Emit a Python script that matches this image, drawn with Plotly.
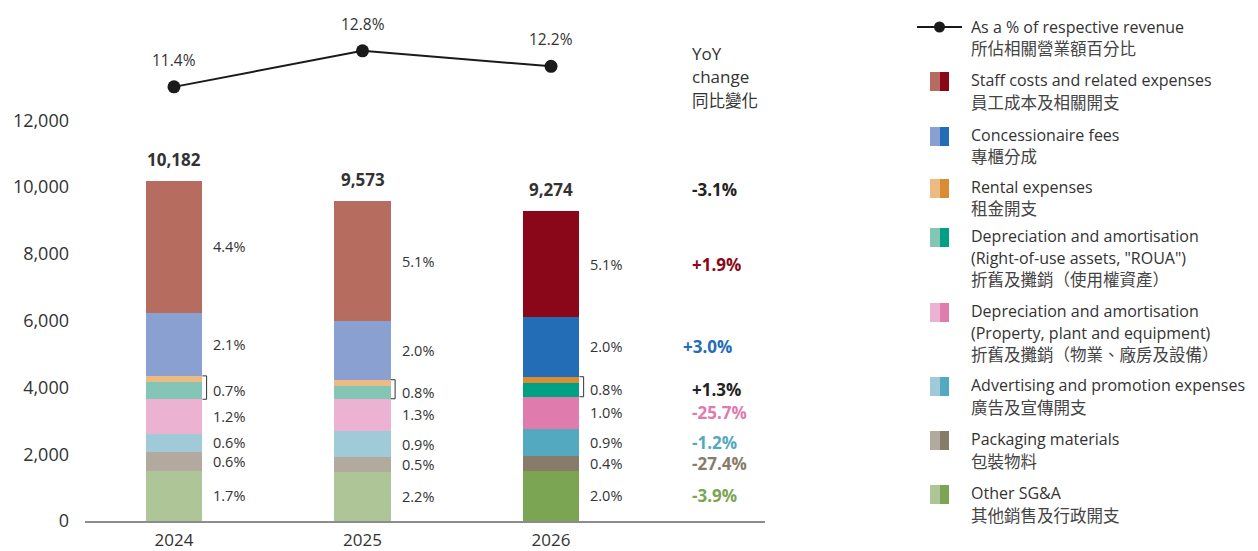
import plotly.graph_objects as go

# data
years = ["2024", "2025", "2026"]
totals = [10182, 9573, 9274]
pct_revenue = [11.4, 12.8, 12.2]

other = [1500, 1470, 1500]
packaging = [565, 450, 450]
advertising = [550, 770, 810]
ppe = [1030, 970, 960]
roua = [520, 390, 420]
rental = [180, 180, 180]
concession = [1885, 1765, 1795]
staff = [3952, 3578, 3159]

lbl_other = ["1.7%", "2.2%", "2.0%"]
lbl_packaging = ["0.6%", "0.5%", "0.4%"]
lbl_advertising = ["0.6%", "0.9%", "0.9%"]
lbl_ppe = ["1.2%", "1.3%", "1.0%"]
lbl_roua_rental = ["0.7%", "0.8%", "0.8%"]
lbl_concession = ["2.1%", "2.0%", "2.0%"]
lbl_staff = ["4.4%", "5.1%", "5.1%"]

yoy_total = "-3.1%"
yoy_other = "-3.9%"
yoy_packaging = "-27.4%"
yoy_advertising = "-1.2%"
yoy_ppe = "-25.7%"
yoy_roua_rental = "+1.3%"
yoy_concession = "+3.0%"
yoy_staff = "+1.9%"

# (light, dark) colour pairs
C_OTHER = ("#AEC697", "#7BA453")
C_PACK = ("#B2AA9F", "#877B6A")
C_ADV = ("#A1CAD8", "#53A9BF")
C_PPE = ("#EBB3D1", "#E07BAD")
C_ROUA = ("#85C5B5", "#00A084")
C_RENT = ("#EBBB83", "#DA8C33")
C_CONC = ("#8AA0D1", "#236CB6")
C_STAFF = ("#B66D5F", "#8A0719")

TXT = "#333333"
FONT = "'Open Sans', 'Noto Sans CJK TC', sans-serif"
CJK = "'Noto Sans CJK TC', sans-serif"

# page body has an 8px margin, so the figure is drawn 8px in from the corner
OFF = 8
W, H = 1258 - OFF, 551 - OFF
L, R, T, B = 85 - OFF, 493, 10 - OFF, 30
BAR_W = 0.302
xs = list(range(len(years)))


# screen pixel -> paper coordinate
def px(x):
    return (x - OFF - L) / (W - L - R)


def py(y):
    return (H - B - (y - OFF)) / (H - T - B)


fig = go.Figure()

segments = [
    (other, C_OTHER, lbl_other, yoy_other),
    (packaging, C_PACK, lbl_packaging, yoy_packaging),
    (advertising, C_ADV, lbl_advertising, yoy_advertising),
    (ppe, C_PPE, lbl_ppe, yoy_ppe),
    (roua, C_ROUA, None, None),
    (rental, C_RENT, lbl_roua_rental, yoy_roua_rental),
    (concession, C_CONC, lbl_concession, yoy_concession),
    (staff, C_STAFF, lbl_staff, yoy_staff),
]

annotations = []
yoy_x = 2.737
base = [0, 0, 0]
for vals, (light, dark), labels, yoy in segments:
    fig.add_trace(go.Bar(
        x=xs, y=vals, width=BAR_W,
        marker=dict(color=[light, light, dark], line=dict(width=0)),
        showlegend=False, hoverinfo="skip",
    ))
    top = [b + v for b, v in zip(base, vals)]
    if labels is not None:
        if vals is rental:
            # label covers rental + ROUA together, with a bracket
            lo = [t - v - r for t, v, r in zip(top, vals, roua)]
            for i in xs:
                xb = i + BAR_W / 2
                fig.add_trace(go.Scatter(
                    x=[xb, xb + 0.022, xb + 0.022, xb], y=[top[i], top[i], lo[i], lo[i]],
                    mode="lines", line=dict(color="#333333", width=1),
                    showlegend=False, hoverinfo="skip",
                ))
            mids = [(t + l) / 2 for t, l in zip(top, lo)]
            shift = -3
        else:
            mids = [(t + b) / 2 for t, b in zip(top, base)]
            shift = 0
        for i in xs:
            annotations.append(dict(
                x=i + BAR_W / 2, y=mids[i], xref="x", yref="y", text=labels[i],
                showarrow=False, xanchor="left", yanchor="middle", xshift=9, yshift=shift,
                font=dict(size=14.5, color=TXT, family=FONT),
            ))
        ycol = "#222222" if yoy == yoy_roua_rental else dark
        annotations.append(dict(
            x=yoy_x, y=mids[2], xref="x", yref="y", text="<b>%s</b>" % yoy,
            showarrow=False, xanchor="left", yanchor="middle", yshift=shift,
            xshift=-9 if yoy == yoy_concession else 0,
            font=dict(size=17, color=ycol, family=FONT),
        ))
    base = top

# totals
for i in xs:
    annotations.append(dict(
        x=i, y=totals[i], xref="x", yref="y", text="<b>%s</b>" % format(totals[i], ","),
        showarrow=False, yanchor="bottom", yshift=8,
        font=dict(size=17, color=TXT, family=FONT),
    ))
annotations.append(dict(
    x=yoy_x, y=totals[2], xref="x", yref="y", text="<b>%s</b>" % yoy_total,
    showarrow=False, xanchor="left", yanchor="bottom", yshift=8,
    font=dict(size=17, color="#222222", family=FONT),
))

# YoY header
for j, t in enumerate(["YoY", "change", "同比變化"]):
    annotations.append(dict(
        x=yoy_x, y=py(53 + 23.5 * j), xref="x", yref="paper", text=t,
        showarrow=False, xanchor="left", yanchor="middle", height=22,
        font=dict(size=17 if j < 2 else 16.5, color=TXT, family=FONT if j < 2 else CJK),
    ))

# revenue % line
fig.add_trace(go.Scatter(
    x=xs, y=pct_revenue, yaxis="y2", mode="lines+markers",
    line=dict(color="#1a1a1a", width=2), marker=dict(color="#1a1a1a", size=13),
    showlegend=False, hoverinfo="skip",
))
for i in xs:
    annotations.append(dict(
        x=i, y=pct_revenue[i], xref="x", yref="y2", text="%.1f%%" % pct_revenue[i],
        showarrow=False, yanchor="middle", yshift=27,
        font=dict(size=15.5, color=TXT, family=FONT),
    ))

# custom legend
shapes = []
legend_x = 969
shapes.append(dict(type="line", xref="paper", yref="paper",
                   x0=px(917), x1=px(962), y0=py(27), y1=py(27),
                   line=dict(color="#1a1a1a", width=2)))
shapes.append(dict(type="circle", xref="paper", yref="paper",
                   x0=px(934), x1=px(945), y0=py(21.5), y1=py(32.5),
                   fillcolor="#1a1a1a", line=dict(width=0)))

legend_items = [
    (None, 27, ["As a % of respective revenue", "所佔相關營業額百分比"]),
    (C_STAFF, 72, ["Staff costs and related expenses", "員工成本及相關開支"]),
    (C_CONC, 127, ["Concessionaire fees", "專櫃分成"]),
    (C_RENT, 179, ["Rental expenses", "租金開支"]),
    (C_ROUA, 228, ["Depreciation and amortisation", '(Right-of-use assets, "ROUA")', "折舊及攤銷（使用權資產）"]),
    (C_PPE, 303, ["Depreciation and amortisation", "(Property, plant and equipment)", "折舊及攤銷（物業、廠房及設備）"]),
    (C_ADV, 377, ["Advertising and promotion expenses", "廣告及宣傳開支"]),
    (C_PACK, 431, ["Packaging materials", "包裝物料"]),
    (C_OTHER, 485, ["Other SG&A", "其他銷售及行政開支"]),
]
for colors, top_y, lines in legend_items:
    if colors is not None:
        shapes.append(dict(type="rect", xref="paper", yref="paper",
                           x0=px(930), x1=px(940), y0=py(top_y + 19), y1=py(top_y),
                           fillcolor=colors[0], line=dict(width=0)))
        shapes.append(dict(type="rect", xref="paper", yref="paper",
                           x0=px(940), x1=px(949), y0=py(top_y + 19), y1=py(top_y),
                           fillcolor=colors[1], line=dict(width=0)))
        first = top_y + 8
    else:
        first = top_y
    for j, t in enumerate(lines):
        is_cjk = j == len(lines) - 1
        annotations.append(dict(
            x=px(legend_x), y=py(first + 21.5 * j), xref="paper", yref="paper",
            text=t, showarrow=False, xanchor="left", yanchor="middle", height=20,
            font=dict(size=16 if not is_cjk else 16.5, color=TXT if not is_cjk else "#444444",
                      family=FONT if not is_cjk else CJK),
        ))

fig.update_layout(
    width=W, height=H, autosize=False,
    margin=dict(l=L, r=R, t=T, b=B, autoexpand=False),
    barmode="stack", bargap=0,
    plot_bgcolor="white", paper_bgcolor="white",
    font=dict(family=FONT, color=TXT, size=16),
    xaxis=dict(
        range=[-0.472, 3.135], tickmode="array", tickvals=xs, ticktext=years,
        showgrid=False, zeroline=False, showline=True, linecolor="#8c8c8c", linewidth=1.5,
        ticks="", ticklabelstandoff=3, tickfont=dict(size=17, color=TXT), automargin=False,
    ),
    yaxis=dict(
        range=[0, 15300], tickmode="array", tickvals=[0, 2000, 4000, 6000, 8000, 10000, 12000],
        tickformat=",", showgrid=False, zeroline=False, showline=False,
        ticks="", ticklabelstandoff=15, tickfont=dict(size=18, color=TXT), automargin=False,
    ),
    yaxis2=dict(range=[-5.49, 14.39], overlaying="y", visible=False),
    shapes=shapes,
    annotations=annotations,
)

fig.write_html("out.html")
